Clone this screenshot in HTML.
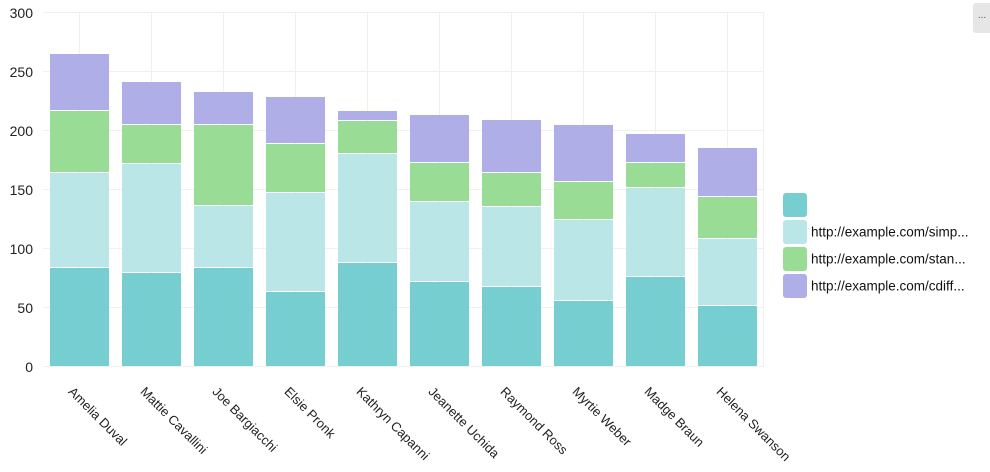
<!DOCTYPE html>
<html><head><meta charset="utf-8"><style>
html,body{margin:0;padding:0;background:#fff;}
svg{display:block;font-family:"Liberation Sans",sans-serif;}
</style></head><body>
<svg width="990" height="472" viewBox="0 0 990 472" xmlns="http://www.w3.org/2000/svg">
<g stroke="#f0f0f0" stroke-width="1">
<line x1="43" y1="12.5" x2="764" y2="12.5"/>
<line x1="43" y1="71.5" x2="764" y2="71.5"/>
<line x1="43" y1="130.5" x2="764" y2="130.5"/>
<line x1="43" y1="189.5" x2="764" y2="189.5"/>
<line x1="43" y1="248.5" x2="764" y2="248.5"/>
<line x1="43" y1="307.5" x2="764" y2="307.5"/>
<line x1="43" y1="366.5" x2="764" y2="366.5"/>
<line x1="79.5" y1="12" x2="79.5" y2="366"/>
<line x1="151.5" y1="12" x2="151.5" y2="366"/>
<line x1="223.5" y1="12" x2="223.5" y2="366"/>
<line x1="295.5" y1="12" x2="295.5" y2="366"/>
<line x1="367.5" y1="12" x2="367.5" y2="366"/>
<line x1="439.5" y1="12" x2="439.5" y2="366"/>
<line x1="511.5" y1="12" x2="511.5" y2="366"/>
<line x1="583.5" y1="12" x2="583.5" y2="366"/>
<line x1="655.5" y1="12" x2="655.5" y2="366"/>
<line x1="727.5" y1="12" x2="727.5" y2="366"/>
<line x1="763.5" y1="12" x2="763.5" y2="366"/>
</g>
<g font-size="14" fill="#222" text-anchor="end">
<text x="33" y="18">300</text>
<text x="33" y="77">250</text>
<text x="33" y="136">200</text>
<text x="33" y="195">150</text>
<text x="33" y="254">100</text>
<text x="33" y="313">50</text>
<text x="33" y="372">0</text>
</g>
<g>
<rect x="50" y="268" width="59" height="98" fill="#76ced1"/>
<rect x="50" y="173" width="59" height="94" fill="#bae6e7"/>
<rect x="50" y="111" width="59" height="61" fill="#99dc95"/>
<rect x="50" y="54" width="59" height="56" fill="#b0aee6"/>
<rect x="122" y="273" width="59" height="93" fill="#76ced1"/>
<rect x="122" y="164" width="59" height="108" fill="#bae6e7"/>
<rect x="122" y="125" width="59" height="38" fill="#99dc95"/>
<rect x="122" y="82" width="59" height="42" fill="#b0aee6"/>
<rect x="194" y="268" width="59" height="98" fill="#76ced1"/>
<rect x="194" y="206" width="59" height="61" fill="#bae6e7"/>
<rect x="194" y="125" width="59" height="80" fill="#99dc95"/>
<rect x="194" y="92" width="59" height="32" fill="#b0aee6"/>
<rect x="266" y="292" width="59" height="74" fill="#76ced1"/>
<rect x="266" y="193" width="59" height="98" fill="#bae6e7"/>
<rect x="266" y="144" width="59" height="48" fill="#99dc95"/>
<rect x="266" y="97" width="59" height="46" fill="#b0aee6"/>
<rect x="338" y="263" width="59" height="103" fill="#76ced1"/>
<rect x="338" y="154" width="59" height="108" fill="#bae6e7"/>
<rect x="338" y="121" width="59" height="32" fill="#99dc95"/>
<rect x="338" y="111" width="59" height="9" fill="#b0aee6"/>
<rect x="410" y="282" width="59" height="84" fill="#76ced1"/>
<rect x="410" y="202" width="59" height="79" fill="#bae6e7"/>
<rect x="410" y="163" width="59" height="38" fill="#99dc95"/>
<rect x="410" y="115" width="59" height="47" fill="#b0aee6"/>
<rect x="482" y="287" width="59" height="79" fill="#76ced1"/>
<rect x="482" y="207" width="59" height="79" fill="#bae6e7"/>
<rect x="482" y="173" width="59" height="33" fill="#99dc95"/>
<rect x="482" y="120" width="59" height="52" fill="#b0aee6"/>
<rect x="554" y="301" width="59" height="65" fill="#76ced1"/>
<rect x="554" y="220" width="59" height="80" fill="#bae6e7"/>
<rect x="554" y="182" width="59" height="37" fill="#99dc95"/>
<rect x="554" y="125" width="59" height="56" fill="#b0aee6"/>
<rect x="626" y="277" width="59" height="89" fill="#76ced1"/>
<rect x="626" y="188" width="59" height="88" fill="#bae6e7"/>
<rect x="626" y="163" width="59" height="24" fill="#99dc95"/>
<rect x="626" y="134" width="59" height="28" fill="#b0aee6"/>
<rect x="698" y="306" width="59" height="60" fill="#76ced1"/>
<rect x="698" y="239" width="59" height="66" fill="#bae6e7"/>
<rect x="698" y="197" width="59" height="41" fill="#99dc95"/>
<rect x="698" y="148" width="59" height="48" fill="#b0aee6"/>
</g>
<g font-size="13" fill="#222" dominant-baseline="middle">
<text x="70" y="390" transform="rotate(45 70 390)">Amelia Duval</text>
<text x="142" y="390" transform="rotate(45 142 390)">Mattie Cavallini</text>
<text x="214" y="390" transform="rotate(45 214 390)">Joe Bargiacchi</text>
<text x="286" y="390" transform="rotate(45 286 390)">Elsie Pronk</text>
<text x="358" y="390" transform="rotate(45 358 390)">Kathryn Capanni</text>
<text x="430" y="390" transform="rotate(45 430 390)">Jeanette Uchida</text>
<text x="502" y="390" transform="rotate(45 502 390)">Raymond Ross</text>
<text x="574" y="390" transform="rotate(45 574 390)">Myrtie Weber</text>
<text x="646" y="390" transform="rotate(45 646 390)">Madge Braun</text>
<text x="718" y="390" transform="rotate(45 718 390)">Helena Swanson</text>
</g>
<g>
<rect x="783" y="193" width="24" height="24" rx="3" fill="#76ced1"/>
<rect x="783" y="220" width="24" height="24" rx="3" fill="#bae6e7"/>
<rect x="783" y="247" width="24" height="24" rx="3" fill="#99dc95"/>
<rect x="783" y="274" width="24" height="24" rx="3" fill="#b0aee6"/>
</g>
<g font-size="13.5" fill="#111" dominant-baseline="middle">
<text x="811" y="233">http://example.com/simp...</text>
<text x="811" y="260">http://example.com/stan...</text>
<text x="811" y="287">http://example.com/cdiff...</text>
</g>
<rect x="973" y="3" width="20" height="30" rx="3" fill="#e6e6e6"/>
<text x="982" y="18" font-size="10" fill="#555" text-anchor="middle">...</text>
</svg>
</body></html>
